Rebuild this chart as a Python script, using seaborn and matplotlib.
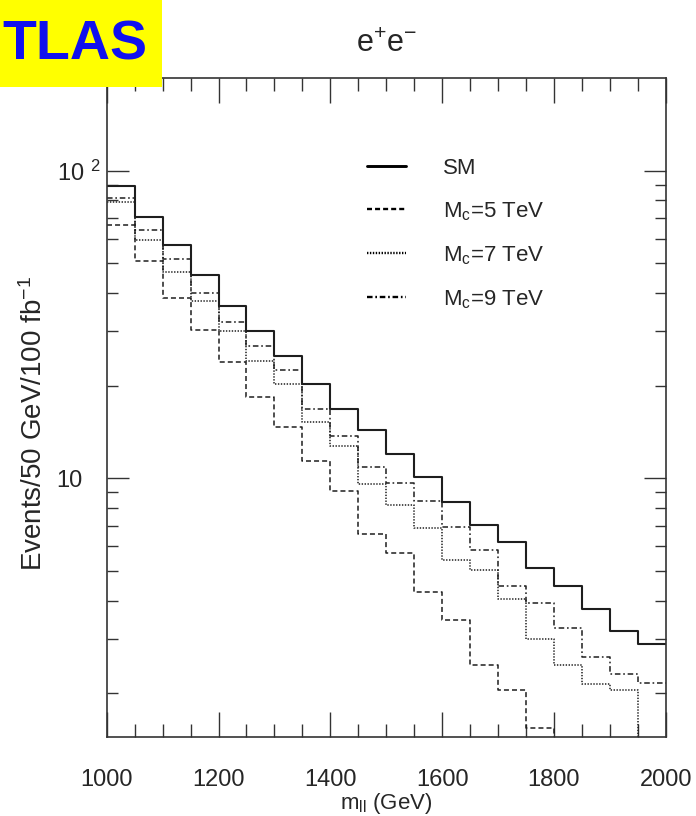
import matplotlib
matplotlib.use('Agg')
import matplotlib.pyplot as plt
import matplotlib.ticker as mticker
from matplotlib.lines import Line2D
from matplotlib.patches import Rectangle
import seaborn as sns

# bins of 50 GeV in dilepton mass
bin_edges = [1000, 1050, 1100, 1150, 1200, 1250, 1300, 1350, 1400, 1450, 1500,
             1550, 1600, 1650, 1700, 1750, 1800, 1850, 1900, 1950, 2000]

# events / 50 GeV / 100 fb^-1
sm_events = [88.9, 70.5, 57.5, 45.7, 36.3, 30.1, 24.9, 20.2, 16.8, 14.3,
             12.0, 10.1, 8.34, 7.05, 6.18, 5.09, 4.45, 3.76, 3.19, 2.89]
mc5_events = [66.4, 50.8, 38.6, 30.4, 23.8, 18.3, 14.7, 11.4, 9.07, 6.56,
              5.69, 4.26, 3.47, 2.47, 2.05, 1.54, 1.2, 1.0, 0.85, 0.7]
mc7_events = [78.9, 59.5, 46.8, 37.7, 30.1, 24.1, 20.3, 15.2, 12.7, 9.54,
              8.15, 6.90, 5.41, 5.03, 4.06, 3.0, 2.47, 2.14, 2.04, 1.3]
mc9_events = [81.5, 64.0, 51.5, 40.0, 32.2, 26.8, 22.4, 16.8, 13.7, 10.9,
              9.65, 8.44, 6.95, 5.82, 4.46, 3.92, 3.25, 2.62, 2.30, 2.16]

series_labels = ['SM', r'M$_{c}$=5 TeV', r'M$_{c}$=7 TeV', r'M$_{c}$=9 TeV']
y_tick_vals = [10, 100]
y_tick_labels = ['10', '10 $^{2}$']

sns.set_style('ticks')
plt.rcParams['font.family'] = ['Liberation Sans', 'DejaVu Sans']
plt.rcParams['mathtext.fontset'] = 'custom'
plt.rcParams['mathtext.rm'] = 'Liberation Sans'
plt.rcParams['mathtext.it'] = 'Liberation Sans'
plt.rcParams['mathtext.default'] = 'regular'
plt.rcParams['lines.scale_dashes'] = False

line_styles = ['-', (0, (3.6, 2.2)), (0, (1.0, 1.1)), (0, (4.0, 2.0, 1.2, 2.0))]
line_widths = [1.5, 1.1, 1.1, 1.1]
line_col = '#1e1e1e'

fig = plt.figure(figsize=(6.96, 8.16), dpi=100)
ax = fig.add_axes([0.1533, 0.0968, 0.8032, 0.8076])

centers = [(a + b) / 2 for a, b in zip(bin_edges[:-1], bin_edges[1:])]
all_series = [sm_events, mc5_events, mc7_events, mc9_events]
for vals, ls, lw in zip(all_series, line_styles, line_widths):
    sns.histplot(x=centers, weights=vals, bins=bin_edges, element='step',
                 fill=False, color=line_col, linestyle=ls, linewidth=lw, ax=ax)

ax.set_yscale('log')
ax.set_xlim(1000, 2000)
ax.set_ylim(1.44, 200)

ax.xaxis.set_major_locator(mticker.MultipleLocator(200))
ax.xaxis.set_minor_locator(mticker.MultipleLocator(50))
ax.yaxis.set_major_locator(mticker.FixedLocator(y_tick_vals))
ax.yaxis.set_major_formatter(mticker.FixedFormatter(y_tick_labels))
ax.yaxis.set_minor_locator(mticker.FixedLocator([2, 3, 4, 5, 6, 7, 8, 9,
                                                 20, 30, 40, 50, 60, 70, 80, 90]))
ax.yaxis.set_minor_formatter(mticker.NullFormatter())

ax.tick_params(which='both', direction='in', top=True, right=True,
               color='#333333', width=1.0)
ax.tick_params(axis='x', which='major', length=18, pad=23, labelsize=17)
ax.tick_params(axis='x', which='minor', length=9.4)
ax.tick_params(axis='y', which='major', length=16, pad=36, labelsize=17)
ax.tick_params(axis='y', which='minor', length=8)
plt.setp(ax.get_yticklabels(), ha='left')

for sp in ax.spines.values():
    sp.set_color('#333333')
    sp.set_linewidth(1.2)

ax.set_xlabel(r'm$_{ll}$ (GeV)', fontsize=16, labelpad=0)
ax.set_ylabel(r'Events/50 GeV/100 fb$^{-1}$', fontsize=20)
ax.yaxis.set_label_coords(-0.105, 0.475)
ax.set_title(r'e$^{+}$e$^{-}$', fontsize=22, pad=19)

handles = [Line2D([], [], color='black', linestyle=ls, linewidth=lw + 0.6)
           for ls, lw in zip(line_styles, line_widths)]
ax.legend(handles, series_labels, loc='upper left', bbox_to_anchor=(0.4657, 0.879),
          frameon=False, fontsize=16, handlelength=1.76, handletextpad=1.67,
          labelspacing=0.96, borderpad=0, borderaxespad=0)

# ATLAS label box in the top-left corner
fig.add_artist(Rectangle((0, 1 - 87 / 816), 162 / 696, 87 / 816,
                         transform=fig.transFigure, facecolor='#ffff00',
                         edgecolor='none', zorder=10))
fig.text(2 / 696, 1 - 45 / 816, 'TLAS', ha='left', va='center', fontsize=40,
         color='#1010ee', fontweight='bold', zorder=11,
         family=['Liberation Sans Narrow', 'Liberation Sans', 'DejaVu Sans'])

fig.savefig('out.png', dpi=100)
